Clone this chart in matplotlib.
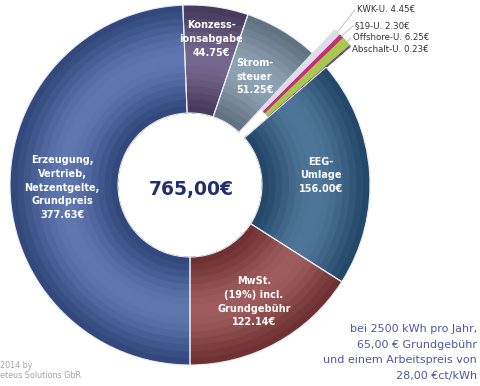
import numpy as np
import matplotlib
matplotlib.use("Agg")
import matplotlib.pyplot as plt
from matplotlib.colors import to_rgb

# cost components of a yearly power bill, clockwise starting at 6 o'clock
names = ["Erzeugung,\nVertrieb,\nNetzentgelte,\nGrundpreis", "Konzess-\nionsabgabe", "Strom-\nsteuer",
         "KWK-U.", "§19-U.", "Offshore-U.", "Abschalt-U.",
         "EEG-\nUmlage", "MwSt.\n(19%) incl.\nGrundgebühr"]
values = [377.63, 44.75, 51.25, 4.45, 2.30, 6.25, 0.23, 156.00, 122.14]
colors = ["#3f5c9e", "#5a4976", "#7a91a6", "#dcdde8", "#c2307c", "#a9c64e", "#6b4b7e", "#2d5b84", "#8c3d3d"]
small = [False, False, False, True, True, True, True, False, False]
total_label = "765,00€"
note_lines = ["bei 2500 kWh pro Jahr,", "65,00 € Grundgebühr", "und einem Arbeitspreis von", "28,00 €ct/kWh"]
credit_lines = ["2014 by", "eteus Solutions GbR"]

# geometry in pixel units (y axis pointing up)
cx, cy = 190, 201
R, W = 180, 108
pull = 32
label_r = {0: 0.71, 1: 0.82, 2: 0.70, 7: 0.73, 8: 0.74}
small_pos = [(357, 376), (355, 360), (353, 348), (352, 337)]

fig = plt.figure(figsize=(4.8, 3.86), dpi=100)
ax = fig.add_axes([0, 0, 1, 1])

explode = [pull if s else 0 for s in small]


def shade(c, f):
    c = np.array(to_rgb(c))
    dark = c * 0.78
    light = c + (1 - c) * 0.16
    return tuple(dark + (light - dark) * f)


# ring by ring from the outside in, lighter in the middle of the ring
n = 16
dr = W / n
for k in range(n - 1, -1, -1):
    t = (k + 0.5) / n
    f = np.sin(np.pi * t) ** 1.5
    cols = [c if s else shade(c, f) for c, s in zip(colors, small)]
    ax.pie(values, radius=R - W + (k + 1) * dr, center=(cx, cy), startangle=-90, counterclock=False,
           explode=explode, colors=cols, wedgeprops=dict(width=(k + 1) * dr, edgecolor="none", linewidth=0))

# outlines / separators
wedges = ax.pie(values, radius=R, center=(cx, cy), startangle=-90, counterclock=False,
                explode=explode, colors=colors, wedgeprops=dict(width=W))[0]
for w, c, s in zip(wedges, colors, small):
    if s:
        w.set_edgecolor(c)
        w.set_linewidth(1.0)
    else:
        w.set_facecolor("none")
        w.set_edgecolor("#e8ecf2")
        w.set_linewidth(0.8)

total = sum(values)
cum = np.cumsum([0] + values)
j = 0
for i, (name, v) in enumerate(zip(names, values)):
    mid = np.deg2rad(-90 - (cum[i] + v / 2) / total * 360)
    if small[i]:
        tx = cx + (R + pull) * np.cos(mid)
        ty = cy + (R + pull) * np.sin(mid)
        lx, ly = small_pos[j]
        j += 1
        ax.plot([tx, lx - 2], [ty, ly], color="#b8b8b8", lw=0.6)
        ax.text(lx, ly, f"{name} {v:.2f}€", fontsize=6.2, color="#333333", ha="left", va="center")
    else:
        r = label_r[i] * R
        ax.text(cx + r * np.cos(mid), cy + r * np.sin(mid), f"{name}\n{v:.2f}€", fontsize=7,
                fontweight="bold", color="white", ha="center", va="center", linespacing=1.45)

ax.text(191, 196, total_label, fontsize=13.5, fontweight="bold", color="#1f2f6f", ha="center", va="center")

for k, line in enumerate(note_lines):
    ax.text(477, 57 - k * 15.5, line, fontsize=8, color="#4b5a9c", ha="right", va="center")

for k, line in enumerate(credit_lines):
    ax.text(0, 21 - k * 10, line, fontsize=5.8, color="#a0a4ab", ha="left", va="center")

ax.set_xlim(0, 480)
ax.set_ylim(0, 386)
ax.set_aspect("equal")
ax.axis("off")

fig.savefig("out.png", dpi=100)
